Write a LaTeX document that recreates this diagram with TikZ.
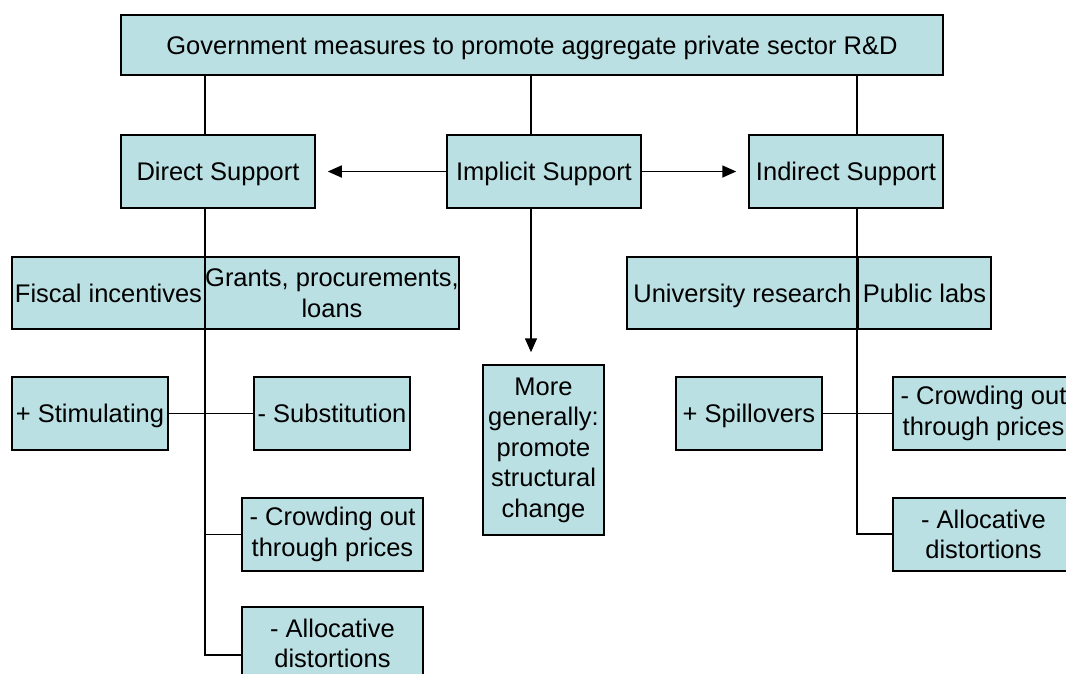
\documentclass[tikz,border=0pt]{standalone}
\usepackage{fontspec}
\setmainfont{Liberation Sans}
\usetikzlibrary{arrows.meta}
\definecolor{boxfill}{RGB}{187,224,227}
\tikzset{
  box/.style={draw=black, fill=boxfill, line width=1.5pt, inner sep=0pt, align=center,
    font=\fontsize{25.5}{30.5}\selectfont},
  one/.style={text height=18.3pt, text depth=0pt},
  two/.style={yshift=0pt},
  link/.style={draw=black, line width=1.6pt},
  arr/.style={link, -{Triangle[length=14pt,width=12pt]}, shorten >=12pt}
}
\begin{document}
\begin{tikzpicture}[x=1pt,y=-1pt]
\useasboundingbox (0,0) rectangle (1066,673);
\clip (0,0) rectangle (1066,673);
% boxes
\node[box, one, minimum width=822pt, minimum height=60pt] (top) at (532,45) {Government measures to promote aggregate private sector R\&D};
\node[box, one, minimum width=194pt, minimum height=73pt] (direct) at (218,171.5) {Direct Support};
\node[box, one, minimum width=194pt, minimum height=73pt] (implicit) at (544,171.5) {Implicit Support};
\node[box, one, minimum width=194pt, minimum height=73pt] (indirect) at (846,171.5) {Indirect Support};
\node[box, one, minimum width=193pt, minimum height=72pt] (fiscal) at (108.5,293) {Fiscal incentives};
\node[box, minimum width=254pt, minimum height=72pt] (grants) at (332,293) {Grants, procurements,\\loans};
\node[box, one, minimum width=156pt, minimum height=73pt] (stim) at (90,413.5) {+ Stimulating};
\node[box, one, minimum width=156pt, minimum height=73pt] (subst) at (332,413.5) {- Substitution};
\node[box, minimum width=181pt, minimum height=73pt] (crowdL) at (332.5,534.5) {- Crowding out\\through prices};
\node[box, minimum width=181pt, minimum height=73pt] (allocL) at (332.5,643.5) {- Allocative\\distortions};
\node[box, minimum width=121pt, minimum height=170pt] (more) at (543.5,450) {More\\generally:\\promote\\structural\\change};
\node[box, one, minimum width=231pt, minimum height=72pt] (univ) at (742.5,293) {University research};
\node[box, one, minimum width=133pt, minimum height=72pt] (labs) at (924.5,293) {Public labs};
\node[box, one, minimum width=146pt, minimum height=73pt] (spill) at (749,413.5) {+ Spillovers};
\node[box, minimum width=181pt, minimum height=73pt] (crowdR) at (983.5,413.5) {- Crowding out\\through prices};
\node[box, minimum width=181pt, minimum height=73pt] (allocR) at (983.5,534.5) {- Allocative\\distortions};
% reference coordinates
\coordinate (dx) at (205,0);
\coordinate (mx) at (531,0);
\coordinate (rx) at (857,0);
\coordinate (dend) at (205,655);
\coordinate (rend) at (857,534);
% connectors from top
\draw[link] (top.south -| dx) -- (direct.north -| dx);
\draw[link] (top.south -| mx) -- (implicit.north -| mx);
\draw[link] (top.south -| rx) -- (indirect.north -| rx);
% implicit arrows
\draw[arr] (implicit.west) -- (direct.east);
\draw[arr] (implicit.east) -- (indirect.west);
\draw[arr] (implicit.south -| mx) -- (more.north -| mx);
% left trunk
\draw[link] (direct.south -| dx) -- (dend) -- (allocL.west |- dend);
\draw[link] (stim.east) -- (subst.west);
\draw[link] (crowdL.west -| dx) -- (crowdL.west);
% right trunk
\draw[link] (indirect.south -| rx) -- (rend) -- (allocR.west |- rend);
\draw[link] (spill.east) -- (crowdR.west);
\end{tikzpicture}
\end{document}
